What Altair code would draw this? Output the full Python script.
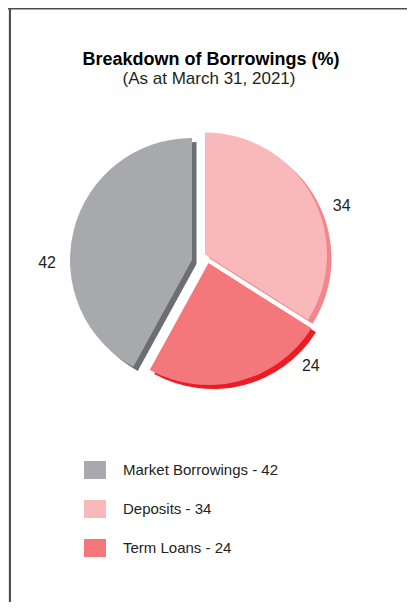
import math
import altair as alt
import pandas as pd

# ---------------- data ----------------
categories = ["Deposits", "Term Loans", "Market Borrowings"]   # clockwise from 12 o'clock
values = [34, 24, 42]
legend_order = ["Market Borrowings", "Deposits", "Term Loans"]
title_text = "Breakdown of Borrowings (%)"
subtitle_text = "(As at March 31, 2021)"

# ---------------- styles ----------------
FONT = "Liberation Sans"
TEXT = "#231f20"
FILL = {"Market Borrowings": "#a7a9ac", "Deposits": "#f9b9bb", "Term Loans": "#f4777c"}
SHADOW = {"Market Borrowings": "#6d6e71", "Deposits": "#f3868b", "Term Loans": "#ed1c24"}
# pie centre of every (exploded) slice, in pixels of the plot area
CX = {"Market Borrowings": 184, "Deposits": 197, "Term Loans": 200.5}
CY = {"Market Borrowings": 252, "Deposits": 246.5, "Term Loans": 255}
# label angle nudge (fraction of a turn)
LSHIFT = {"Market Borrowings": -0.043, "Deposits": 0.026, "Term Loans": -0.0847}
R = 122
LABEL_R = 145
SH_DX, SH_DY = 4.5, 4
W, H = 399, 594


def by_cat(d):
    parts = [f"datum.cat === '{k}' ? {repr(v) if isinstance(v, str) else v}" for k, v in d.items()]
    return " : ".join(parts) + " : 0"


df = pd.DataFrame({"cat": categories, "value": values, "order": list(range(len(categories)))})
legend_labels = [f"{c} - {values[categories.index(c)]}" for c in legend_order]
legend_colors = [FILL[c] for c in legend_order]

theta_scale = alt.Scale(domain=[0, 1], range=[0, 2 * math.pi])

base = (
    alt.Chart(df)
    .transform_window(cum="sum(value)", sort=[alt.SortField("order")], frame=[None, 0])
    .transform_joinaggregate(total="sum(value)")
    .transform_calculate(
        start="(datum.cum - datum.value) / datum.total",
        end="datum.cum / datum.total",
        label="datum.cat + ' - ' + datum.value",
        cx=by_cat(CX),
        cy=by_cat(CY),
        shadow=by_cat(SHADOW),
        shift=by_cat(LSHIFT),
    )
    .transform_calculate(
        sx=f"datum.cx + {SH_DX}",
        sy=f"datum.cy + {SH_DY}",
        lab_a="(datum.start + datum.end) / 2 + datum.shift",
    )
)

shadow = base.mark_arc(radius=R).encode(
    theta=alt.Theta("start:Q", scale=theta_scale),
    theta2="end:Q",
    x=alt.X("sx:Q", scale=None),
    y=alt.Y("sy:Q", scale=None),
    color=alt.Color("shadow:N", scale=None),
)

slices = base.mark_arc(radius=R).encode(
    theta=alt.Theta("start:Q", scale=theta_scale),
    theta2="end:Q",
    x=alt.X("cx:Q", scale=None),
    y=alt.Y("cy:Q", scale=None),
    color=alt.Color(
        "label:N",
        scale=alt.Scale(domain=legend_labels, range=legend_colors),
        legend=alt.Legend(
            orient="none",
            legendX=77,
            legendY=452,
            title=None,
            symbolType="M-1.1,-0.9H1.1V0.9H-1.1Z",
            symbolSize=400,
            symbolStrokeWidth=0,
            symbolOpacity=1,
            labelFont=FONT,
            labelFontSize=15,
            labelColor=TEXT,
            labelOffset=18,
            rowPadding=20,
            padding=0,
        ),
    ),
)

labels = base.mark_text(
    radius=LABEL_R, font=FONT, fontSize=16, color=TEXT, align="center", baseline="middle"
).encode(
    theta=alt.Theta("lab_a:Q", scale=theta_scale),
    x=alt.X("cx:Q", scale=None),
    y=alt.Y("cy:Q", scale=None),
    text="value:Q",
)

tdf = pd.DataFrame({"t": [title_text]})
sdf = pd.DataFrame({"t": [subtitle_text]})
title = alt.Chart(tdf).mark_text(
    font=FONT, fontSize=18, fontWeight="bold", color="#000000", align="center", baseline="alphabetic"
).encode(x=alt.value(203), y=alt.value(57), text="t:N")
subtitle = alt.Chart(sdf).mark_text(
    font=FONT, fontSize=17, color=TEXT, align="center", baseline="alphabetic"
).encode(x=alt.value(201), y=alt.value(76), text="t:N")

top_border = alt.Chart(tdf).mark_rule(color="#4d4d4d", strokeWidth=1.5).encode(
    x=alt.value(0), x2=alt.value(W), y=alt.value(0.75)
)
left_border = alt.Chart(tdf).mark_rule(color="#4d4d4d", strokeWidth=2).encode(
    x=alt.value(2), y=alt.value(0), y2=alt.value(H)
)
left_strip = alt.Chart(tdf).mark_rect(color="#e6e7e8").encode(
    x=alt.value(0), x2=alt.value(1), y=alt.value(0), y2=alt.value(H)
)

chart = (
    alt.layer(left_strip, top_border, left_border, shadow, slices, labels, title, subtitle)
    .properties(width=W, height=H, padding=0, autosize="none", background="white")
    .configure_view(stroke=None)
)

chart.save("out.html", embed_options={"renderer": "svg", "actions": False})
